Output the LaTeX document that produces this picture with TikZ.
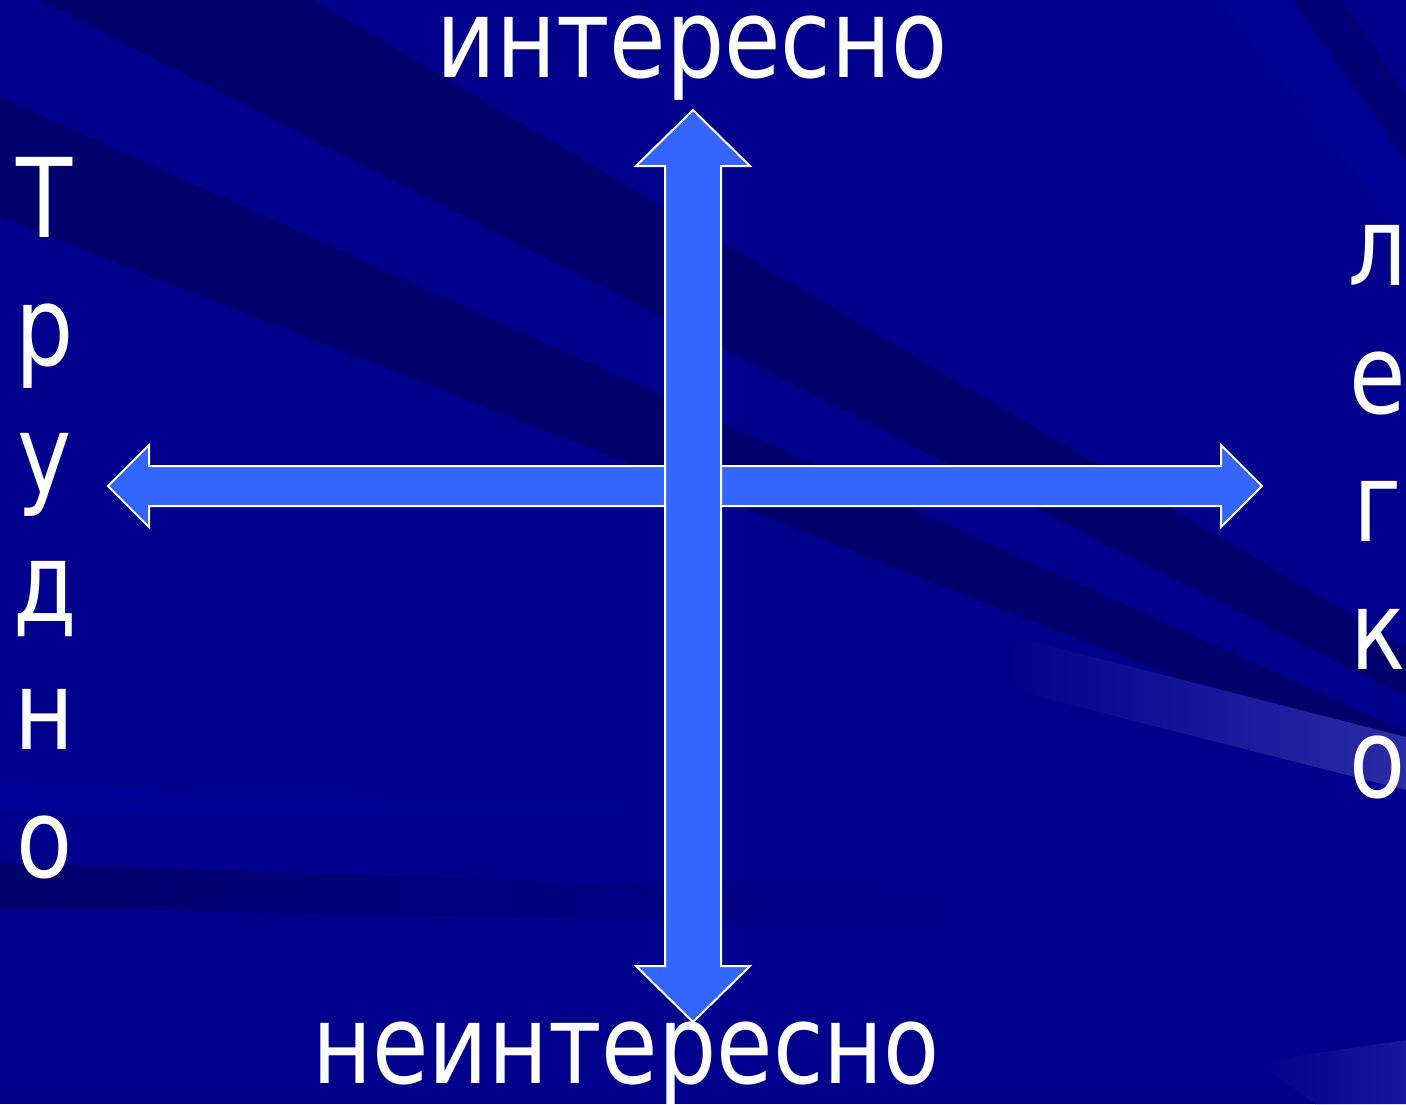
\documentclass[tikz,border=0pt]{standalone}
\usepackage{fontspec}
\setmainfont{DejaVu Sans}[FakeStretch=0.835]
\definecolor{bgmid}{HTML}{00008C}
\definecolor{bgdark}{HTML}{00006C}
\definecolor{bglight}{HTML}{000098}
\definecolor{arrowblue}{HTML}{3366FF}
\definecolor{rayhi}{HTML}{2C2CA6}
\definecolor{rayhib}{HTML}{15159E}
\tikzset{
  darkband/.style={fill=bgdark, draw=none},
  lightband/.style={fill=bglight, draw=none},
  arrowshape/.style={fill=arrowblue, draw=white, line width=2pt, line join=miter},
  bigtext/.style={text=white, inner sep=0pt, anchor=base, font=\fontsize{110}{128}\selectfont},
}
\begin{document}
\begin{tikzpicture}[x=1pt,y=-1pt]
\useasboundingbox (0,0) rectangle (1406,1104);
% background
\fill[bgmid] (0,0) rectangle (1406,1104);
\begin{scope}
\clip (0,0) rectangle (1406,1104);
\coordinate (C) at (2000,1000);
\fill[darkband] (C) -- (40,0) -- (313,0) -- cycle;
\fill[darkband] (C) -- (0,97) -- (0,217) -- cycle;
\shade[left color=bglight, right color=bgmid] (0,783) -- (700,808) -- (700,822) -- (0,810) -- cycle;
\shade[left color=bgdark, right color=bgmid] (0,863) -- (950,895) -- (950,925) -- (0,908) -- cycle;
\fill[lightband, opacity=0.7] (C) -- (1220,0) -- (1290,0) -- cycle;
\fill[darkband, opacity=0.7] (C) -- (1293,0) -- (1343,0) -- cycle;
\shade[left color=bgmid, right color=rayhi] (1000,633) -- (1406,737) -- (1406,790) -- (1000,687) -- cycle;
\shade[left color=bgmid, right color=rayhib] (1255,1062) -- (1406,1040) -- (1406,1104) -- (1315,1104) -- cycle;
\end{scope}
% horizontal double arrow
\coordinate (hl) at (108,486);
\coordinate (hr) at (1262,486);
\draw[arrowshape] (hl) -- (149,445) -- (149,466) -- (1221,466) -- (1221,445) -- (hr)
  -- (1221,527) -- (1221,506) -- (149,506) -- (149,527) -- cycle;
% vertical double arrow
\coordinate (vt) at (693,110);
\coordinate (vb) at (693,1022);
\draw[arrowshape] (vt) -- (750,166) -- (721,166) -- (721,966) -- (750,966) -- (vb)
  -- (636,966) -- (665,966) -- (665,166) -- (636,166) -- cycle;
% labels
\node[bigtext] (top) at (692,77) {интересно};
\node[bigtext] (bot) at (626,1083) {неинтересно};
\foreach \ch [count=\i from 0] in {Т,р,у,д,н,о}
  \node[bigtext] (lt\i) at (45,237+128*\i) {\ch};
\foreach \ch [count=\i from 0] in {л,е,г,к,о}
  \node[bigtext] (rt\i) at (1378,285+128*\i) {\ch};
\end{tikzpicture}
\end{document}
